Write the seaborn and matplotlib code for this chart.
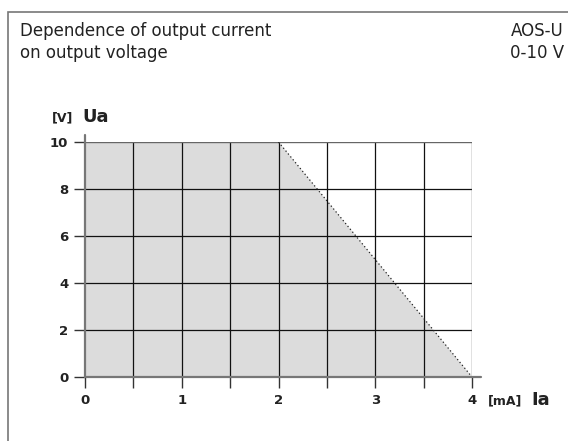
import numpy as np
import pandas as pd
import matplotlib
matplotlib.use('Agg')
import matplotlib.pyplot as plt
import seaborn as sns
from matplotlib.patches import Rectangle

# data
ia_curve = [0, 2, 4]          # output current [mA]
ua_curve = [10, 10, 0]        # output voltage [V]
ia_limit = [2, 4]
ua_limit = [10, 0]
x_ticks = [0, 0.5, 1, 1.5, 2, 2.5, 3, 3.5, 4]
x_labels = ['0', '', '1', '', '2', '', '3', '', '4']
y_ticks = [0, 2, 4, 6, 8, 10]
y_labels = ['0', '2', '4', '6', '8', '10']

sns.set_theme(style='white')
plt.rcParams['font.family'] = ['DejaVu Sans']

fig = plt.figure(figsize=(5.68, 4.41), dpi=100)
W, H = 568, 441
ax = fig.add_axes([85 / W, 1 - 377 / H, (472 - 85) / W, (377 - 142) / H])

# outer frame (runs off the right and bottom edges)
fig.patches.append(Rectangle((8 / W, -0.1), 1.2, 1 - 12 / H + 0.1, transform=fig.transFigure,
                             fill=False, edgecolor='#777777', linewidth=1.2))

ax.fill_between(ia_curve, ua_curve, 0, color='#dcdcdc', linewidth=0, zorder=1)
df = pd.DataFrame({'Ia': ia_limit, 'Ua': ua_limit})
sns.lineplot(data=df, x='Ia', y='Ua', ax=ax, color='#222222', linestyle=(0, (1, 2)),
             linewidth=0.9, zorder=3)

for x in x_ticks[1:-1]:
    ax.axvline(x, color='#111111', linewidth=0.9, zorder=2)
for y in y_ticks[1:-1]:
    ax.axhline(y, color='#111111', linewidth=0.9, zorder=2)
ax.axvline(4, color='#666666', linewidth=1.0, zorder=2)
ax.axhline(10, color='#666666', linewidth=1.0, zorder=2)
# axis lines slightly extended
ax.plot([0, 4.09], [0, 0], color='#777777', linewidth=1.6, clip_on=False, zorder=4)
ax.plot([0, 0], [0, 10.3], color='#777777', linewidth=1.6, clip_on=False, zorder=4)

ax.set_xlim(0, 4)
ax.set_ylim(0, 10)
for s in ax.spines.values():
    s.set_visible(False)
ax.set_xticks(x_ticks)
ax.set_xticklabels(x_labels)
ax.set_yticks(y_ticks)
ax.set_yticklabels(y_labels)
ax.tick_params(axis='both', length=8, width=1.0, color='#333333', direction='out',
               labelsize=11, pad=4, bottom=True, left=True)
for lab in ax.get_xticklabels() + ax.get_yticklabels():
    lab.set_fontweight('bold')
    lab.set_fontsize(9.5)
    lab.set_color('#222222')
ax.set_xlabel('')
ax.set_ylabel('')

fig.text(20 / W, 1 - 22 / H, 'Dependence of output current\non output voltage', ha='left',
         va='top', fontsize=12, color='#222222', linespacing=1.25)
fig.text(564 / W, 1 - 22 / H, 'AOS-U\n0-10 V', ha='right', va='top', fontsize=12,
         color='#222222', linespacing=1.25, multialignment='right')
fig.text(52 / W, 1 - 118 / H, '[V]', ha='left', va='center', fontsize=9, fontweight='bold',
         color='#222222')
fig.text(82 / W, 1 - 117 / H, 'Ua', ha='left', va='center', fontsize=13, fontweight='bold',
         color='#222222')
fig.text(488 / W, 1 - 401 / H, '[mA]', ha='left', va='center', fontsize=9, fontweight='bold',
         color='#222222')
fig.text(531 / W, 1 - 400 / H, 'Ia', ha='left', va='center', fontsize=13, fontweight='bold',
         color='#222222')

fig.savefig('out.png', dpi=100)
